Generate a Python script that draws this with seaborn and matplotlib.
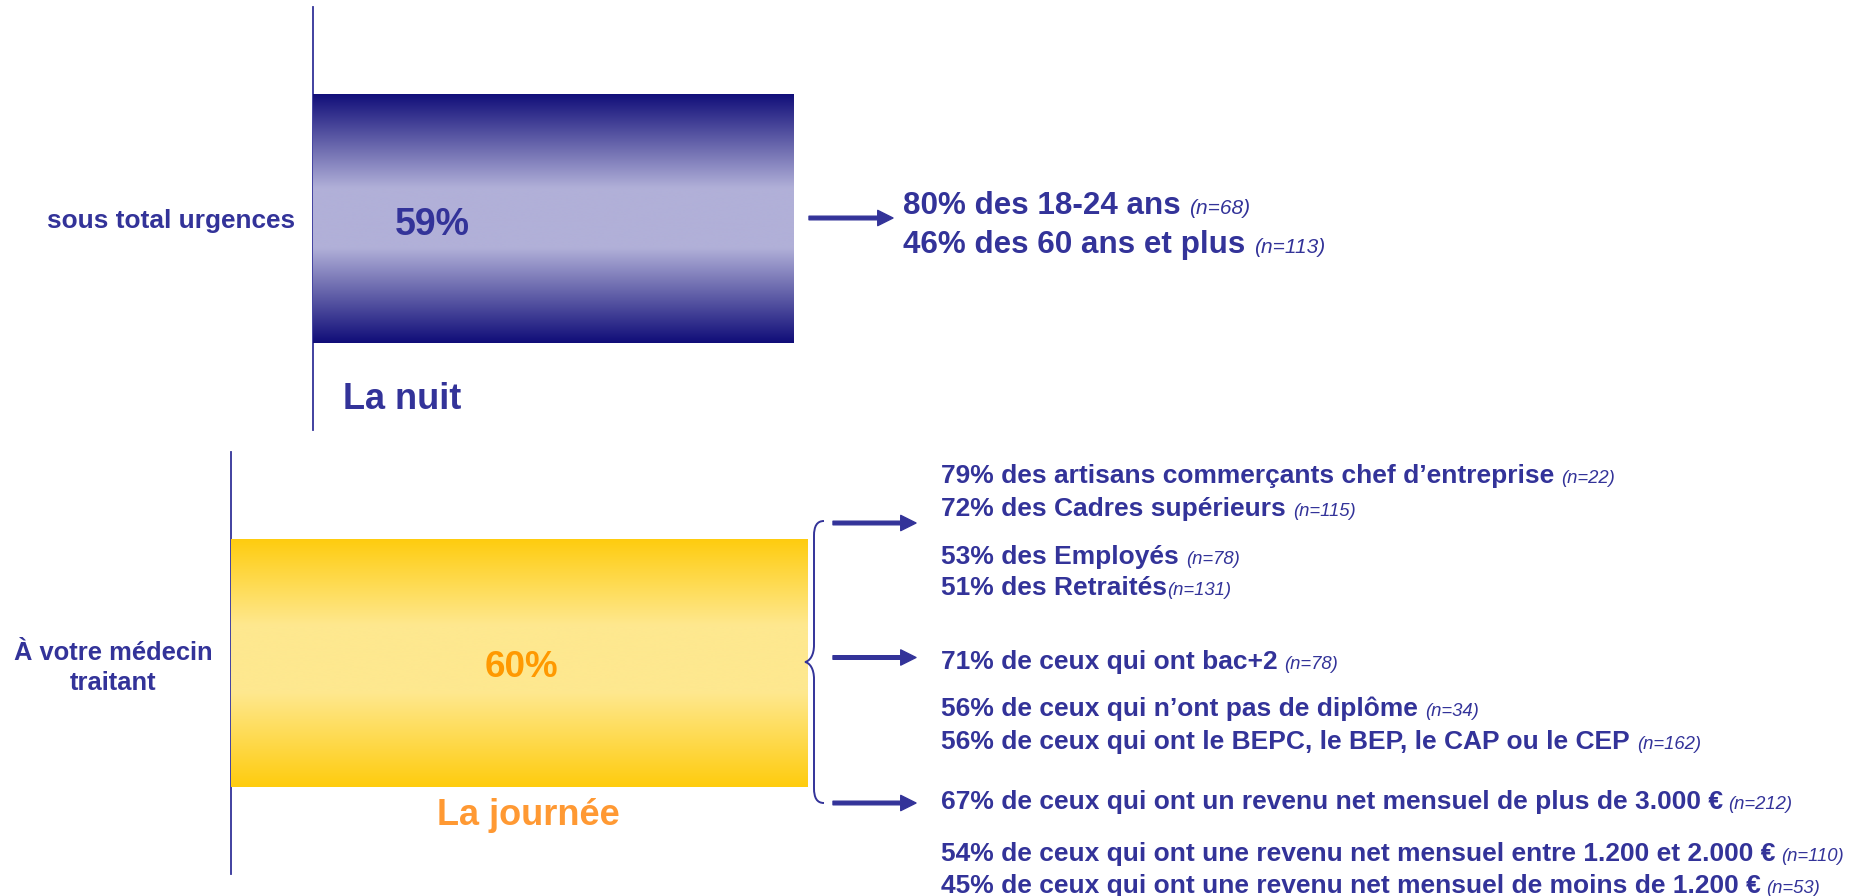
"""
Recreation of the 'sous total urgences / médecin traitant' slide chart.
Two horizontal gradient bars with side annotations.
"""
import numpy as np
import pandas as pd
import matplotlib
matplotlib.use("Agg")
import matplotlib.pyplot as plt
import seaborn as sns
from matplotlib.colors import LinearSegmentedColormap
from matplotlib.path import Path
from matplotlib.patches import PathPatch

# ---- data ----
panel_labels = ["sous total urgences", "À votre médecin\ntraitant"]
panel_values = [59, 60]
panel_periods = ["La nuit", "La journée"]

night_pcts = [80, 46]
night_groups = ["des 18-24 ans", "des 60 ans et plus"]
night_n = [68, 113]

day_pcts = [79, 72, 53, 51, 71, 56, 56, 67, 54, 45]
day_groups = [
    "des artisans commerçants chef d’entreprise",
    "des Cadres supérieurs",
    "des Employés",
    "des Retraités",
    "de ceux qui ont bac+2",
    "de ceux qui n’ont pas de diplôme",
    "de ceux qui ont le BEPC, le BEP, le CAP ou le CEP",
    "de ceux qui ont un revenu net mensuel de plus de 3.000 €",
    "de ceux qui ont une revenu net mensuel entre 1.200 et 2.000 €",
    "de ceux qui ont une revenu net mensuel de moins de 1.200 €",
]
day_n = [22, 115, 78, 131, 78, 34, 162, 212, 110, 53]

# ---- style ----
W, H = 1865, 896
NAVY = "#333399"
sns.set_theme(style="white")
plt.rcParams["font.family"] = ["Liberation Sans", "DejaVu Sans"]

night_cmap = LinearSegmentedColormap.from_list(
    "night", [(0, "#100d78"), (0.38, "#b1b0d8"), (0.62, "#b1b0d8"), (1, "#100d78")])
day_cmap = LinearSegmentedColormap.from_list(
    "day", [(0, "#ffcc0e"), (0.35, "#fee88f"), (0.62, "#fee88f"), (1, "#ffcc0e")])


def fp(x, y):
    # image pixel (top-left origin) -> figure pixels
    return (x, H - y)


def gradient_bar(ax, label, value, cmap, pad):
    df = pd.DataFrame({"label": [label], "value": [value]})
    sns.barplot(data=df, x="value", y="label", orient="h", width=0.589,
                color=cmap(0.5), ax=ax)
    bar = ax.patches[0]
    grad = np.linspace(0, 1, 256)[:, None]
    img = ax.imshow(grad, cmap=cmap, aspect="auto", interpolation="bicubic",
                    extent=(bar.get_x(), bar.get_x() + bar.get_width(),
                            bar.get_y() + bar.get_height(), bar.get_y()),
                    zorder=3)
    img.set_clip_path(bar)
    ax.set_xlim(0, 100)
    ax.set_ylim(0.5, -0.5)
    ax.set_xlabel("")
    ax.set_ylabel("")
    ax.set_xticks([])
    for s in ["top", "right", "bottom"]:
        ax.spines[s].set_visible(False)
    ax.spines["left"].set_color(NAVY)
    ax.spines["left"].set_linewidth(1.3)
    ax.tick_params(axis="y", length=0, pad=pad, labelcolor=NAVY)
    for t in ax.get_yticklabels():
        t.set_fontweight("bold")
        t.set_multialignment("center")


def arrow(ax, x0, x1, y):
    ax.annotate("", xy=fp(x1, y), xytext=fp(x0, y), xycoords="figure pixels",
                textcoords="figure pixels", annotation_clip=False,
                arrowprops=dict(facecolor=NAVY, edgecolor=NAVY, width=2.6,
                                headwidth=11, headlength=11, shrink=0))


def stat_line(ax, x, y, pct, group, n, size, nsize, gap):
    t = ax.annotate(f"{pct}% {group}", xy=fp(x, y), xycoords="figure pixels",
                    ha="left", va="baseline", fontsize=size, fontweight="bold",
                    color=NAVY, annotation_clip=False)
    ax.annotate(f"(n={n})", xy=(1, H - y), xycoords=(t, "figure pixels"),
                xytext=(gap, 0), textcoords="offset points",
                ha="left", va="baseline", fontsize=nsize, fontstyle="italic",
                color=NAVY, annotation_clip=False)


fig = plt.figure(figsize=(W / 100, H / 100), dpi=100)

# top panel: night
ax_top = fig.add_axes([313 / W, (H - 430) / H, 813.6 / W, 423 / H])
gradient_bar(ax_top, panel_labels[0], panel_values[0], night_cmap, pad=13)
for t in ax_top.get_yticklabels():
    t.set_fontsize(18.9)
ax_top.annotate(f"{panel_values[0]}%", xy=fp(432, 235), xycoords="figure pixels",
                ha="center", va="baseline", fontsize=27, fontweight="bold",
                color=NAVY)
ax_top.annotate(panel_periods[0], xy=fp(343, 409), xycoords="figure pixels",
                ha="left", va="baseline", fontsize=26, fontweight="bold",
                color=NAVY, annotation_clip=False)
arrow(ax_top, 809, 893, 218)
for pct, grp, n, yb in zip(night_pcts, night_groups, night_n, [214, 252.5]):
    stat_line(ax_top, 903, yb, pct, grp, n, 22.6, 15, 6)

# bottom panel: day
ax_bot = fig.add_axes([231 / W, (H - 874.3) / H, 961 / W, 422.6 / H])
gradient_bar(ax_bot, panel_labels[1], panel_values[1], day_cmap, pad=13.5)
for t in ax_bot.get_yticklabels():
    t.set_fontsize(18.4)
    t.set_linespacing(1.3)
ax_bot.annotate(f"{panel_values[1]}%", xy=fp(521, 677), xycoords="figure pixels",
                ha="center", va="baseline", fontsize=26.5, fontweight="bold",
                color="#ff9900")
ax_bot.annotate(panel_periods[1], xy=fp(528, 825), xycoords="figure pixels",
                ha="center", va="baseline", fontsize=26, fontweight="bold",
                color="#ff9933", annotation_clip=False)

# curly brace next to the day bar
bx = [(824, 521), (817, 521), (814, 526), (814, 536), (814, 645),
      (814, 655), (810, 661), (805, 662),
      (810, 663), (814, 669), (814, 679), (814, 788),
      (814, 798), (817, 803), (824, 803)]
codes = [Path.MOVETO, Path.CURVE4, Path.CURVE4, Path.CURVE4, Path.LINETO,
         Path.CURVE4, Path.CURVE4, Path.CURVE4,
         Path.CURVE4, Path.CURVE4, Path.CURVE4, Path.LINETO,
         Path.CURVE4, Path.CURVE4, Path.CURVE4]
verts = [(x / W, 1 - y / H) for x, y in bx]
fig.add_artist(PathPatch(Path(verts, codes), transform=fig.transFigure,
                         facecolor="none", edgecolor=NAVY, lw=1.4))

for ya in [523, 657.5, 803]:
    arrow(ax_bot, 833, 916, ya)

day_baselines = [483, 516, 563.5, 594.5, 668.5, 716, 748.5, 808.5, 861, 893]
day_gaps = [5, 5, 5, 0, 5, 5, 5, 4, 4, 4]
for pct, grp, n, yb, g in zip(day_pcts, day_groups, day_n, day_baselines, day_gaps):
    stat_line(ax_bot, 941, yb, pct, grp, n, 19, 13.3, g)

fig.savefig("out.png", dpi=100)
plt.close(fig)
